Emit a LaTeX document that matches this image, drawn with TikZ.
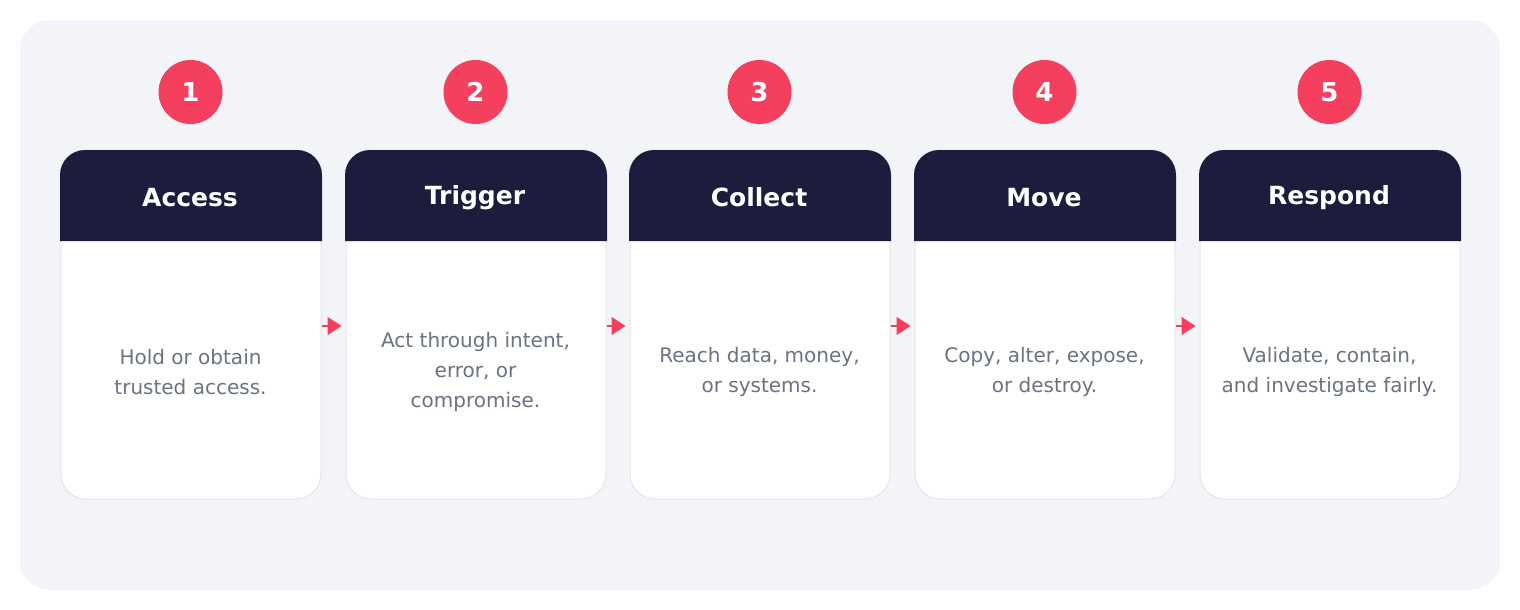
\documentclass[tikz,border=0pt]{standalone}
\usepackage{fontspec}
\setmainfont{DejaVu Sans}
\usetikzlibrary{arrows.meta}
\definecolor{panelbg}{HTML}{F3F4F8}
\definecolor{headbg}{HTML}{1C1C3C}
\definecolor{rose}{HTML}{F43F5E}
\definecolor{bodytxt}{HTML}{6B7280}
\definecolor{cardline}{HTML}{E3E5EA}
\tikzset{
  cardbox/.style={draw=cardline, line width=1pt, fill=white, rounded corners=25pt, minimum width=260pt, minimum height=349pt, inner sep=0pt},
  headtxt/.style={text=white, font=\fontsize{25}{29}\selectfont\bfseries},
  numcirc/.style={circle, fill=rose, minimum size=64pt, inner sep=0pt, text=white, font=\fontsize{26}{30}\selectfont\bfseries},
  bodytext/.style={text=bodytxt, align=center, font=\fontsize{20}{30}\selectfont},
  flowarrow/.style={draw=rose, line width=1.5pt, -{Triangle[length=14pt,width=18pt]}, shorten >=4pt},
}
\begin{document}
\begin{tikzpicture}[x=1pt,y=-1pt]
\useasboundingbox (0,0) rectangle (1520,610);
\fill[white] (0,0) rectangle (1520,610);
\fill[panelbg, rounded corners=30pt] (20,20) rectangle (1500,590);
\foreach \i/\cx/\head/\body in {
  1/191/Access/{Hold or obtain\\trusted access.},
  2/476/Trigger/{Act through intent,\\error, or\\compromise.},
  3/760/Collect/{Reach data, money,\\or systems.},
  4/1045/Move/{Copy, alter, expose,\\or destroy.},
  5/1330/Respond/{Validate, contain,\\and investigate fairly.}} {
  \node[cardbox] (card\i) at (\cx,324.5) {};
  \fill[headbg] (\cx-131,241) {[rounded corners=25pt] -- (\cx-131,150) -- (\cx+131,150)} -- (\cx+131,241) -- cycle;
  \node[headtxt] (head\i) at (\cx-1,197.5) {\head};
  \node[numcirc] (num\i) at (\cx-0.5,92) {\i};
  \node[bodytext] (body\i) at (\cx-0.5,372) {\body};
}
\foreach \a/\b in {1/2,2/3,3/4,4/5} {
  \draw[flowarrow] ([yshift=-1.5pt]card\a.east) -- ([yshift=-1.5pt]card\b.west);
}
\end{tikzpicture}
\end{document}
